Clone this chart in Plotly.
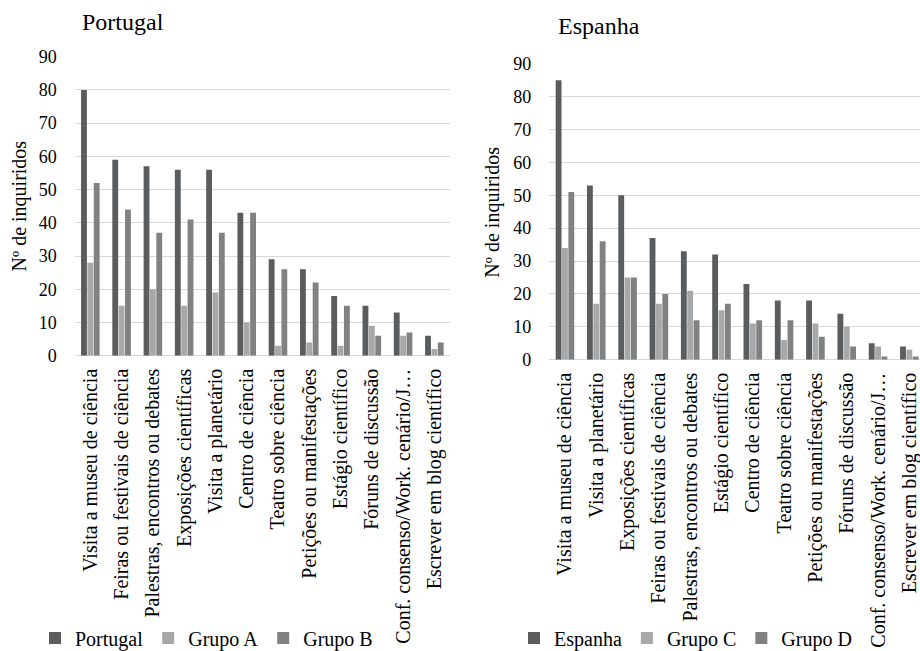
import plotly.graph_objects as go

# ---------------- data ----------------
pt_categories = [
    "Visita a museu de ciência", "Feiras ou festivais de ciência",
    "Palestras, encontros ou debates", "Exposições científicas",
    "Visita a planetário", "Centro de ciência", "Teatro sobre ciência",
    "Petições ou manifestações", "Estágio científico", "Fóruns de discussão",
    "Conf. consenso/Work. cenário/J…", "Escrever em blog científico",
]
pt_portugal = [80, 59, 57, 56, 56, 43, 29, 26, 18, 15, 13, 6]
pt_grupo_a = [28, 15, 20, 15, 19, 10, 3, 4, 3, 9, 6, 2]
pt_grupo_b = [52, 44, 37, 41, 37, 43, 26, 22, 15, 6, 7, 4]

es_categories = [
    "Visita a museu de ciência", "Visita a planetário",
    "Exposições científicas", "Feiras ou festivais de ciência",
    "Palestras, encontros ou debates", "Estágio científico",
    "Centro de ciência", "Teatro sobre ciência", "Petições ou manifestações",
    "Fóruns de discussão", "Conf. consenso/Work. cenário/J…",
    "Escrever em blog científico",
]
es_espanha = [85, 53, 50, 37, 33, 32, 23, 18, 18, 14, 5, 4]
es_grupo_c = [34, 17, 25, 17, 21, 15, 11, 6, 11, 10, 4, 3]
es_grupo_d = [51, 36, 25, 20, 12, 17, 12, 12, 7, 4, 1, 1]

y_ticks = [0, 10, 20, 30, 40, 50, 60, 70, 80, 90]

# ---------------- style ----------------
FONT = "Liberation Serif"
DARK = "#5a5c5d"
LIGHT = "#a6a8a9"
MID = "#7f8183"
GRID = "#d9d9d9"
W, H = 920, 651

fig = go.Figure()

def add_group(cats, vals, name, color, xa, ya, leg):
    fig.add_trace(go.Bar(
        x=cats, y=vals, name=name, marker=dict(color=color, line=dict(width=0)),
        xaxis=xa, yaxis=ya, legend=leg, hoverinfo="x+y+name",
    ))

add_group(pt_categories, pt_portugal, "Portugal", DARK, "x", "y", "legend")
add_group(pt_categories, pt_grupo_a, "Grupo A", LIGHT, "x", "y", "legend")
add_group(pt_categories, pt_grupo_b, "Grupo B", MID, "x", "y", "legend")
add_group(es_categories, es_espanha, "Espanha", DARK, "x2", "y2", "legend2")
add_group(es_categories, es_grupo_c, "Grupo C", LIGHT, "x2", "y2", "legend2")
add_group(es_categories, es_grupo_d, "Grupo D", MID, "x2", "y2", "legend2")

def px_x(p):
    return p / W

def px_y(p):
    return 1 - p / H

xaxis_common = dict(
    type="category", tickangle=-90, showgrid=False, showline=False,
    zeroline=False, ticks="", automargin=False, ticklabelstandoff=8,
    tickfont=dict(family=FONT, size=20, color="#000000"), fixedrange=True,
)
yaxis_common = dict(
    range=[0, 90], tickvals=y_ticks, showgrid=True, gridcolor=GRID,
    gridwidth=1, zeroline=True, zerolinecolor=GRID, zerolinewidth=1,
    showline=False, ticks="", automargin=False, ticklabelstandoff=17,
    tickfont=dict(family=FONT, size=18, color="#000000"), fixedrange=True,
)

legend_common = dict(
    orientation="h", yanchor="middle", xanchor="left",
    font=dict(family=FONT, size=20, color="#000000"),
    itemwidth=30, traceorder="normal",
    bgcolor="rgba(0,0,0,0)", borderwidth=0,
)

fig.update_layout(
    width=W, height=H,
    margin=dict(l=0, r=0, t=0, b=0, autoexpand=False),
    paper_bgcolor="white", plot_bgcolor="white",
    barmode="group", bargap=0.39, bargroupgap=0.08,
    font=dict(family=FONT, color="#000000"),
    xaxis=dict(domain=[px_x(74.7), px_x(450)], anchor="y",
               range=[-0.5, 11.5], **xaxis_common),
    yaxis=dict(domain=[px_y(355.7), px_y(56.7)], anchor="x", **yaxis_common),
    xaxis2=dict(domain=[px_x(549.3), 1.0], anchor="y2",
                range=[-0.5, 11.34], **xaxis_common),
    yaxis2=dict(domain=[px_y(359.7), px_y(63.7)], anchor="x2", **yaxis_common),
    legend=dict(x=px_x(35), y=px_y(638), **legend_common),
    legend2=dict(x=px_x(514), y=px_y(638), **legend_common),
    showlegend=True,
    annotations=[
        dict(text="Portugal", x=px_x(80), y=px_y(22), xref="paper", yref="paper",
             xanchor="left", yanchor="middle", showarrow=False,
             font=dict(family=FONT, size=24)),
        dict(text="Espanha", x=px_x(556), y=px_y(26), xref="paper", yref="paper",
             xanchor="left", yanchor="middle", showarrow=False,
             font=dict(family=FONT, size=24)),
        dict(text="Nº de inquiridos", x=px_x(18.5), y=px_y(206), xref="paper",
             yref="paper", xanchor="center", yanchor="middle", textangle=-90,
             showarrow=False, font=dict(family=FONT, size=20)),
        dict(text="Nº de inquiridos", x=px_x(493), y=px_y(211.7), xref="paper",
             yref="paper", xanchor="center", yanchor="middle", textangle=-90,
             showarrow=False, font=dict(family=FONT, size=20)),
    ],
)

fig.write_html("out.html", config={"displayModeBar": False},
               post_script="document.body.style.margin='0px';")
